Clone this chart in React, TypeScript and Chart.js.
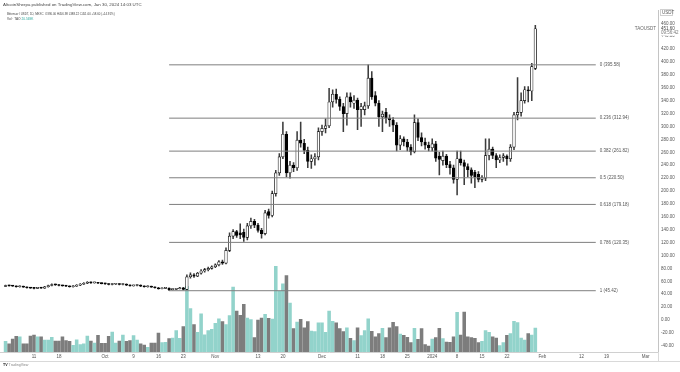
import React, { useEffect, useRef } from 'react';
import { Chart, registerables } from 'chart.js';

Chart.register(...registerables);

// ---------- axis / category data ----------
const AXIS_START = '2023-09-02';
const AXIS_DAY_COUNT = 185; // Sep 2 2023 .. Mar 4 2024
const FIRST_CANDLE_OFFSET = 1; // first candle on Sep 3 2023

// ---------- daily OHLC (TAO/USDT, 1D) Sep 3 2023 .. Jan 30 2024 ----------
const OPEN = [
  52, 53.5, 53, 52.5, 51.5, 52, 51, 50, 49.5, 49, 50, 49.5, 51.5, 53.5, 55, 54.5, 53.5, 53, 52.5, 51.5,
  52.5, 54, 55.5, 57, 58.5, 57.5, 58, 57, 56.5, 56, 55, 55.5, 56, 55, 55.5, 54, 53, 53.5, 54, 52.5,
  51.5, 52, 51, 50, 48.5, 49, 49.5, 47, 47.5, 48.5, 50,
  47.5, 67, 70, 68, 72.5, 76, 78, 80, 82.5, 85.5, 90, 88, 108, 130, 137, 135, 136, 128, 146, 153,
  147, 139, 134, 168, 162, 196, 228, 253, 288, 228, 240, 236, 279, 274, 263, 246, 250, 253, 292, 297,
  301, 338, 350, 342, 331, 320, 346, 336, 341, 326, 326, 332, 375, 348, 336, 315, 322, 313, 310, 302,
  271, 281, 276, 268, 261, 306, 283, 276, 271, 267, 273, 254, 247, 254, 241, 236, 218, 250, 244, 238,
  233, 229, 226, 218, 220, 255, 265, 255, 248, 252, 254, 250, 268, 318, 322, 340, 357, 355, 390,
];
const HIGH = [
  54.2, 54, 53.6, 53, 52.8, 52.5, 51.6, 50.7, 50.1, 50.8, 50.6, 52.2, 54.3, 55.9, 55.8, 55.1, 54.2, 53.7, 53, 53.2,
  54.8, 56.3, 57.9, 59.6, 59.2, 58.9, 58.6, 57.7, 57.1, 56.6, 56.3, 56.9, 56.6, 56.3, 56, 54.6, 54.2, 54.8, 54.5, 53,
  52.8, 52.6, 51.6, 50.5, 49.8, 50.3, 50, 48.3, 49.3, 50.8, 50.6,
  70, 73, 72, 74, 78, 80, 82, 84, 87, 92, 93, 112, 135, 140, 139, 149, 141, 150, 158, 156,
  150, 142, 170, 172, 200, 232, 258, 307, 292, 246, 244, 292, 307, 280, 268, 256, 258, 298, 302, 312,
  359, 357, 358, 346, 336, 352, 352, 348, 344, 336, 338, 395.58, 385, 354, 340, 324, 328, 318, 314, 306,
  286, 284, 280, 272, 318, 312, 290, 282, 276, 281, 277, 260, 262, 257, 246, 240, 262, 262, 248, 242,
  236, 232, 230, 224, 281, 281, 268, 258, 256, 258, 256, 272, 322, 376, 352, 362, 362, 398, 456.98,
];
const LOW = [
  51.5, 52.3, 51.9, 50.8, 50.9, 50.4, 49.3, 48.9, 48.3, 48.6, 48.8, 49, 51, 53, 53.8, 52.9, 52.4, 51.8, 50.8, 51,
  52, 53.4, 55, 56.5, 56.8, 57, 56.3, 55.8, 55.3, 54.3, 54.5, 55, 54.3, 54.5, 53.3, 52.4, 52.5, 53, 51.8, 50.9,
  51, 50.4, 49.4, 47.9, 48, 48.5, 45.42, 46.5, 47, 48, 46.8,
  47, 65, 66, 67, 71, 74, 76, 79, 81, 84, 86, 87, 106, 126, 128, 126, 122, 124, 142, 143,
  136, 127, 132, 158, 160, 192, 224, 250, 222, 220, 230, 232, 268, 258, 236, 235, 240, 248, 286, 290,
  298, 330, 336, 325, 292, 302, 330, 328, 295, 300, 318, 328, 342, 332, 300, 292, 305, 300, 292, 262,
  264, 270, 262, 256, 259, 278, 270, 265, 262, 262, 246, 225, 240, 236, 226, 212, 194, 240, 210, 222,
  212, 205, 214, 214, 216, 248, 250, 236, 244, 246, 240, 246, 264, 310, 316, 336, 338, 340, 388.22,
];
const CLOSE = [
  53.5, 53, 52.5, 51.5, 52, 51, 50, 49.5, 49, 50, 49.5, 51.5, 53.5, 55, 54.5, 53.5, 53, 52.5, 51.5, 52.5,
  54, 55.5, 57, 58.5, 57.5, 58, 57, 56.5, 56, 55, 55.5, 56, 55, 55.5, 54, 53, 53.5, 54, 52.5, 51.5,
  52, 51, 50, 48.5, 49, 49.5, 47, 47.5, 48.5, 50, 47.5,
  67, 70, 68, 72.5, 76, 78, 80, 82.5, 85.5, 90, 88, 108, 130, 137, 131, 132, 128, 146, 153, 147,
  139, 134, 166, 162, 196, 228, 253, 288, 228, 240, 236, 279, 274, 263, 246, 250, 253, 292, 297, 301,
  338, 350, 342, 331, 320, 346, 338, 341, 326, 331, 332, 375, 346, 336, 315, 319, 313, 310, 302, 271,
  281, 276, 268, 261, 306, 283, 276, 271, 267, 273, 251, 249, 254, 241, 236, 218, 250, 244, 238, 233,
  224, 222, 218, 220.5, 255, 265, 255, 248, 252, 254.5, 250, 268, 318, 322, 340, 357, 355, 393, 451.6,
];
// volume in thousands of TAO
const VOLUME_K = [
  9.2, 6.9, 11.1, 13.5, 13.1, 7.1, 6.9, 13.7, 14.6, 13.1, 12.9, 10.3, 10.3, 12.6, 9.4, 9.4, 12.9, 9.7, 9.2, 5.7,
  10.5, 6.3, 7.1, 13.7, 9.4, 7.7, 14.3, 7.5, 7.5, 13.5, 17.1, 7.7, 9.4, 14.6, 9.2, 9.7, 14.0, 10.3, 6.9, 6.0,
  4.0, 7.7, 7.7, 16.3, 8.0, 8.3, 11.4, 12.0, 18.3, 11.7, 21.7,
  56.3, 37.1, 23.4, 16.9, 32.8, 14.8, 18.3, 19.5, 24.6, 28.5, 26.0, 23.4, 31.1, 55.7, 35.1, 31.5, 40.9, 29.1, 27.7, 12.3,
  27.4, 29.1, 32.3, 28.9, 28.3, 73.4,
  52.0, 58.3, 65.4, 42.0, 20.0, 25.7, 28.0, 20.6, 26.0, 18.0, 17.4, 24.9, 24.9, 16.9, 35.1, 26.3, 24.9, 20.0, 17.4, 20.8,
  11.7, 9.7, 20.6, 14.0, 18.3, 28.5, 17.7, 13.1, 15.7, 20.3, 12.3, 20.8, 25.5, 21.7, 15.4, 14.3, 12.6, 8.0, 20.3, 10.9,
  20.0, 6.3, 5.1, 11.1, 12.3, 20.3, 11.4, 8.6, 8.3, 12.9, 34.0, 14.6, 34.3, 12.9, 12.3, 11.7, 8.0, 9.2, 18.3, 16.9,
  13.1, 12.0, 5.4, 8.0, 14.3, 15.7, 26.3, 25.1, 12.0, 10.3, 15.7, 14.6, 20.569,
];

// ---------- ticks ----------
const X_TICK_DATES = [
  '2023-09-11', '2023-09-18', '2023-10-01', '2023-10-09', '2023-10-16', '2023-10-23', '2023-11-01',
  '2023-11-13', '2023-11-20', '2023-12-01', '2023-12-11', '2023-12-18', '2023-12-25', '2024-01-01',
  '2024-01-08', '2024-01-15', '2024-01-22', '2024-02-01', '2024-02-12', '2024-02-19', '2024-03-01',
];
const X_TICK_LABELS = [
  '11', '18', 'Oct', '9', '16', '23', 'Nov', '13', '20', 'Dec', '11', '18', '25', '2024',
  '8', '15', '22', 'Feb', '12', '19', 'Mar',
];
const Y_TICKS = [
  -40, -20, 0, 20, 40, 60, 80, 100, 120, 140, 160, 180, 200, 220, 240, 260, 280, 300, 320, 340, 360,
  380, 400, 420, 440, 460,
];
const Y_MIN = -49.6;
const Y_MAX = 480.6;
const VOL_MAX = 293;

// ---------- Fibonacci retracement ----------
const FIB_RATIOS = ['0', '0.236', '0.382', '0.5', '0.618', '0.786', '1'];
const FIB_PRICES = [395.58, 312.94, 261.82, 220.5, 179.18, 120.35, 45.42];
const FIB_START_DATE = '2023-10-19';
const FIB_END_DATE = '2024-02-16';

// ---------- texts ----------
const HEADER_1 = 'AltcoinSherpa published on TradingView.com, Jan 30, 2024 14:03 UTC';
const SYMBOL_TEXT = 'Bittensor / USDT, 1D, MEXC';
const OHLC_TEXT = 'O390.00 H456.98 L388.22 C451.60 +58.60 (+14.91%)';
const VOL_LABEL = 'Vol · TAO';
const VOL_VALUE = '20.569K';
const SYMBOL_TAG = 'TAOUSDT';
const CURRENCY = 'USDT';
const LAST_PRICE = 451.6;
const COUNTDOWN = '09:56:42';

const FONT = "'Liberation Sans', 'DejaVu Sans', Arial, sans-serif";
const UP_BODY = '#ffffff';
const DOWN_BODY = '#000000';
const CANDLE_BORDER = '#000000';
const WICK = '#3c3c3c';
const VOL_UP = '#92d3cb';
const VOL_DOWN = '#7d7d7d';
const FIB_COLOR = '#7f7f7f';
const TEXT = '#555555';

function buildDays(start: string, n: number): string[] {
  const d0 = Date.parse(start + 'T00:00:00Z');
  const out: string[] = [];
  for (let i = 0; i < n; i++) out.push(new Date(d0 + i * 86400000).toISOString().slice(0, 10));
  return out;
}

function pad<T>(arr: T[]): (T | null)[] {
  const out: (T | null)[] = new Array(AXIS_DAY_COUNT).fill(null);
  arr.forEach((v, i) => {
    out[i + FIRST_CANDLE_OFFSET] = v;
  });
  return out;
}

const overlayPlugin = {
  id: 'tvOverlay',
  afterDatasetsDraw(chart: any) {
    const { ctx, scales } = chart;
    const x = scales.x;
    const y = scales.y;
    const labels: string[] = chart.data.labels;
    const x0 = x.getPixelForValue(labels.indexOf(FIB_START_DATE));
    const x1 = x.getPixelForValue(labels.indexOf(FIB_END_DATE));
    ctx.save();
    ctx.strokeStyle = FIB_COLOR;
    ctx.lineWidth = 1;
    ctx.fillStyle = TEXT;
    ctx.font = `4.5px ${FONT}`;
    ctx.textBaseline = 'middle';
    ctx.textAlign = 'left';
    FIB_PRICES.forEach((p, i) => {
      const py = y.getPixelForValue(p);
      ctx.beginPath();
      ctx.moveTo(x0, py);
      ctx.lineTo(x1, py);
      ctx.stroke();
      ctx.fillText(`${FIB_RATIOS[i]} (${p.toFixed(2)})`, x1 + 4, py);
    });
    ctx.restore();
  },
  afterDraw(chart: any) {
    const { ctx, chartArea, scales } = chart;
    const y = scales.y;
    ctx.save();
    // panel frame extensions
    ctx.strokeStyle = '#d9d9d9';
    ctx.lineWidth = 1;
    ctx.beginPath();
    ctx.moveTo(0, chartArea.bottom + 9.5);
    ctx.lineTo(chart.width, chartArea.bottom + 9.5);
    ctx.moveTo(chartArea.right + 0.5, chartArea.bottom);
    ctx.lineTo(chartArea.right + 0.5, chartArea.bottom + 9.5);
    ctx.stroke();
    // last price tag
    const py = y.getPixelForValue(LAST_PRICE);
    ctx.fillStyle = '#ffffff';
    ctx.fillRect(chartArea.right + 1, py - 3, chart.width - chartArea.right - 1, 10);
    ctx.fillStyle = '#444';
    ctx.font = `4.5px ${FONT}`;
    ctx.textBaseline = 'middle';
    ctx.textAlign = 'left';
    ctx.fillText(LAST_PRICE.toFixed(2), chartArea.right + 3, py);
    ctx.fillStyle = '#777';
    ctx.fillText(COUNTDOWN, chartArea.right + 3, py + 4.5);
    ctx.textAlign = 'right';
    ctx.fillStyle = '#666';
    ctx.fillText(SYMBOL_TAG, chartArea.right - 2, py);
    // currency box
    ctx.textAlign = 'left';
    ctx.fillStyle = '#ffffff';
    ctx.fillRect(chartArea.right + 1, chartArea.top - 1, 14, 7);
    ctx.strokeStyle = '#d0d0d0';
    ctx.strokeRect(chartArea.right + 2.5, chartArea.top - 0.5, 12, 6);
    ctx.fillStyle = '#555';
    ctx.fillText(CURRENCY, chartArea.right + 4, chartArea.top + 2.5);
    ctx.restore();
  },
};

export default function App() {
  const canvasRef = useRef<HTMLCanvasElement | null>(null);

  useEffect(() => {
    const canvas = canvasRef.current;
    if (!canvas) return;
    const days = buildDays(AXIS_START, AXIS_DAY_COUNT);
    const tickMap: Record<string, string> = {};
    X_TICK_DATES.forEach((d, i) => {
      tickMap[d] = X_TICK_LABELS[i];
    });
    const up = CLOSE.map((c, i) => c >= OPEN[i]);
    const bodies = pad(OPEN.map((o, i) => [o, CLOSE[i]]));
    const wicks = pad(LOW.map((l, i) => [l, HIGH[i]]));
    const vols = pad(VOLUME_K);
    const bodyColors = pad(up.map((u) => (u ? UP_BODY : DOWN_BODY)));
    const volColors = pad(up.map((u) => (u ? VOL_UP : VOL_DOWN)));

    const chart = new Chart(canvas, {
      type: 'bar',
      data: {
        labels: days,
        datasets: [
          {
            label: 'body',
            data: bodies as any,
            backgroundColor: bodyColors as any,
            borderColor: CANDLE_BORDER,
            borderWidth: 0.7,
            borderSkipped: false,
            barThickness: 2.6,
            minBarLength: 1,
            grouped: false,
            order: 0,
            yAxisID: 'y',
          },
          {
            label: 'wick',
            data: wicks as any,
            backgroundColor: WICK,
            barThickness: 0.9,
            grouped: false,
            order: 1,
            yAxisID: 'y',
          },
          {
            label: 'volume',
            data: vols as any,
            backgroundColor: volColors as any,
            barThickness: 2.9,
            grouped: false,
            order: 2,
            yAxisID: 'v',
          },
        ],
      },
      options: {
        responsive: false,
        maintainAspectRatio: false,
        animation: false,
        layout: { padding: { top: 10, left: 0, right: 0, bottom: 0 } },
        plugins: { legend: { display: false }, tooltip: { enabled: false } },
        scales: {
          x: {
            type: 'category',
            offset: true,
            grid: { display: false, drawTicks: false },
            border: { display: true, color: '#d0d0d0' },
            ticks: {
              autoSkip: false,
              maxRotation: 0,
              minRotation: 0,
              padding: 2,
              color: TEXT,
              font: { size: 4.5, family: FONT },
              callback: function (this: any, v: any) {
                const lab = this.getLabelForValue(v);
                return tickMap[lab] ?? '';
              },
            },
            afterFit: (s: any) => {
              s.height = 20;
            },
          },
          y: {
            position: 'right',
            min: Y_MIN,
            max: Y_MAX,
            grid: { display: false, drawTicks: false },
            border: { display: true, color: '#c4c4c4' },
            afterBuildTicks: (s: any) => {
              s.ticks = Y_TICKS.map((v) => ({ value: v }));
            },
            ticks: {
              padding: 3,
              color: TEXT,
              font: { size: 4.5, family: FONT },
              callback: (v: any) => Number(v).toFixed(2),
            },
            afterFit: (s: any) => {
              s.width = 22;
            },
          },
          v: { display: false, min: 0, max: VOL_MAX },
        },
      } as any,
      plugins: [overlayPlugin],
    });
    return () => chart.destroy();
  }, []);

  const small = (scale: number): React.CSSProperties => ({
    position: 'absolute',
    fontFamily: FONT,
    fontSize: 8,
    whiteSpace: 'nowrap',
    transformOrigin: 'left center',
    transform: `scale(${scale})`,
    lineHeight: '8px',
  });

  return (
    <div
      style={{
        position: 'fixed',
        left: 0,
        top: 0,
        width: 680,
        height: 372,
        background: '#ffffff',
        overflow: 'hidden',
      }}
    >
      <canvas ref={canvasRef} width={680} height={372} style={{ display: 'block', width: 680, height: 372 }} />
      <div style={{ ...small(0.55), left: 3, top: 1, color: '#444' }}>{HEADER_1}</div>
      <div style={{ ...small(0.36), left: 7, top: 10, color: '#444' }}>
        {SYMBOL_TEXT}&nbsp;&nbsp;{OHLC_TEXT}
      </div>
      <div style={{ ...small(0.4), left: 7, top: 14.5, color: '#444' }}>
        {VOL_LABEL}&nbsp;<span style={{ color: '#26a69a' }}>{VOL_VALUE}</span>
      </div>
      <div style={{ ...small(0.45), left: 3, top: 361, color: '#888' }}>
        <b style={{ color: '#222' }}>TV</b>&nbsp;TradingView
      </div>
    </div>
  );
}
